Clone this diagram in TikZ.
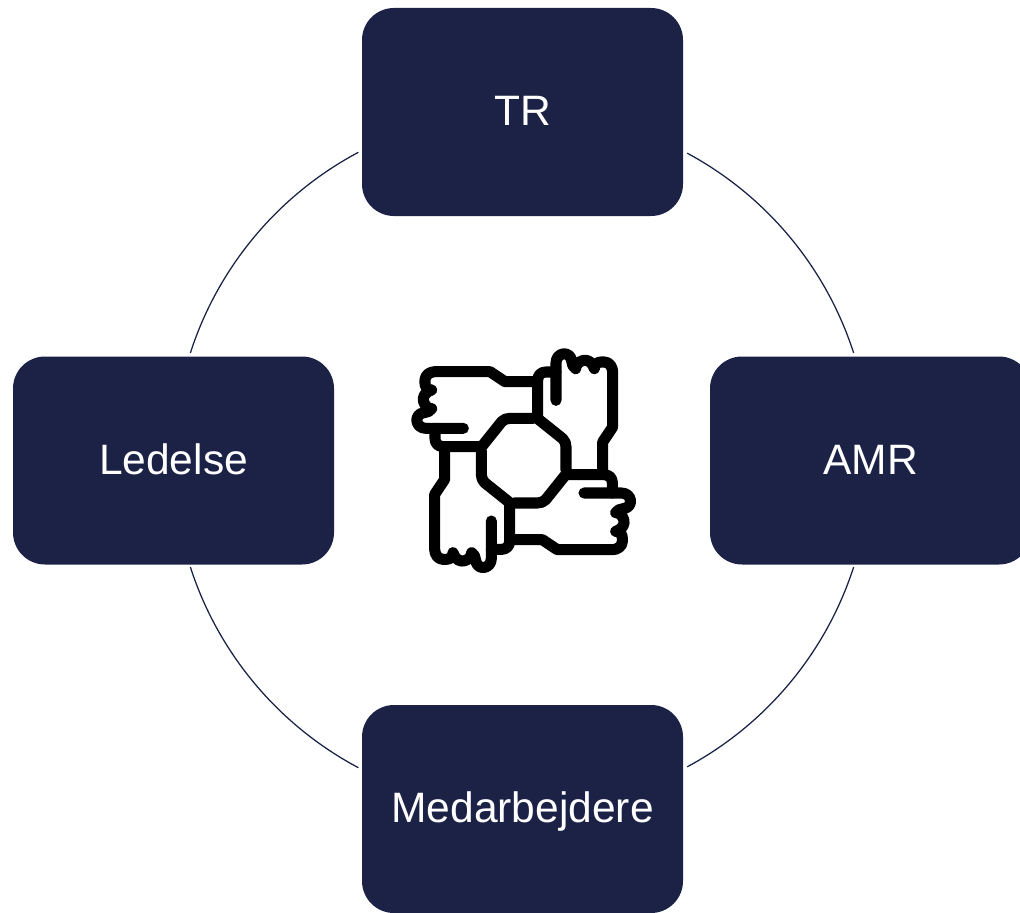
\documentclass[tikz,border=0pt]{standalone}
\usepackage{fontspec}
\usetikzlibrary{calc}
\setmainfont{Liberation Sans}
\definecolor{navy}{HTML}{1B2246}
\tikzset{
  px/.style={x=0.75pt,y=0.75pt},
  rolebox/.style={fill=navy,text=white,rounded corners=24pt,minimum width=240.75pt,minimum height=156pt,inner sep=0pt,outer sep=0pt,font=\fontsize{31.9pt}{36pt}\selectfont,text height=26.5pt,text depth=6pt},
  ring/.style={draw=navy,line width=0.95pt},
  hand/.style={draw=black,line width=8.3pt,line cap=round,line join=round}
}
\begin{document}
\begin{tikzpicture}[px]
\useasboundingbox (0,0) rectangle (1020,-913);
\clip (0,0) rectangle (1020,-913);
\coordinate (c) at (522,-460);
\node[rolebox] (tr) at (522.5,-112) {TR};
\node[rolebox] (amr) at (870.5,-460.5) {AMR};
\node[rolebox] (led) at (173.5,-460.5) {Ledelse};
\node[rolebox] (med) at (522.5,-809) {Medarbejdere};
\coordinate (a1) at ($(c)+(61.7:348.5)$);
\coordinate (a2) at ($(c)+(118.0:348.5)$);
\coordinate (a3) at ($(c)+(-17.9:348.5)$);
\coordinate (a4) at ($(c)+(197.9:348.5)$);
\draw[ring] (a1) arc[start angle=61.7,end angle=17.9,radius=348.5];
\draw[ring] (a2) arc[start angle=118.0,end angle=162.1,radius=348.5];
\draw[ring] (a3) arc[start angle=-17.9,end angle=-61.7,radius=348.5];
\draw[ring] (a4) arc[start angle=197.9,end angle=242.0,radius=348.5];
\foreach \k in {0,90,180,270}{
\begin{scope}[shift={(523.67,-460.67)},scale=1/3,rotate=\k,yscale=-1,shift={(-371,-362)}]
\draw[hand] (190,265) -- (78,265) .. controls (45,265) and (40,222) .. (72,218) .. controls (82,217) and (90,214) .. (95,206)
  .. controls (75,208) and (50,165) .. (95,150)
  .. controls (72,148) and (75,130) .. (75,120)
  .. controls (75,105) and (90,95) .. (105,95) -- (270,95) -- (315,125) -- (412,125);
\draw[hand] (105,265) -- (105,296) .. controls (105,310) and (115,320) .. (130,320) -- (245,320) -- (305,245)
  .. controls (312,238) and (320,235) .. (330,235) -- (400,235);
\end{scope}
}
\end{tikzpicture}
\end{document}
